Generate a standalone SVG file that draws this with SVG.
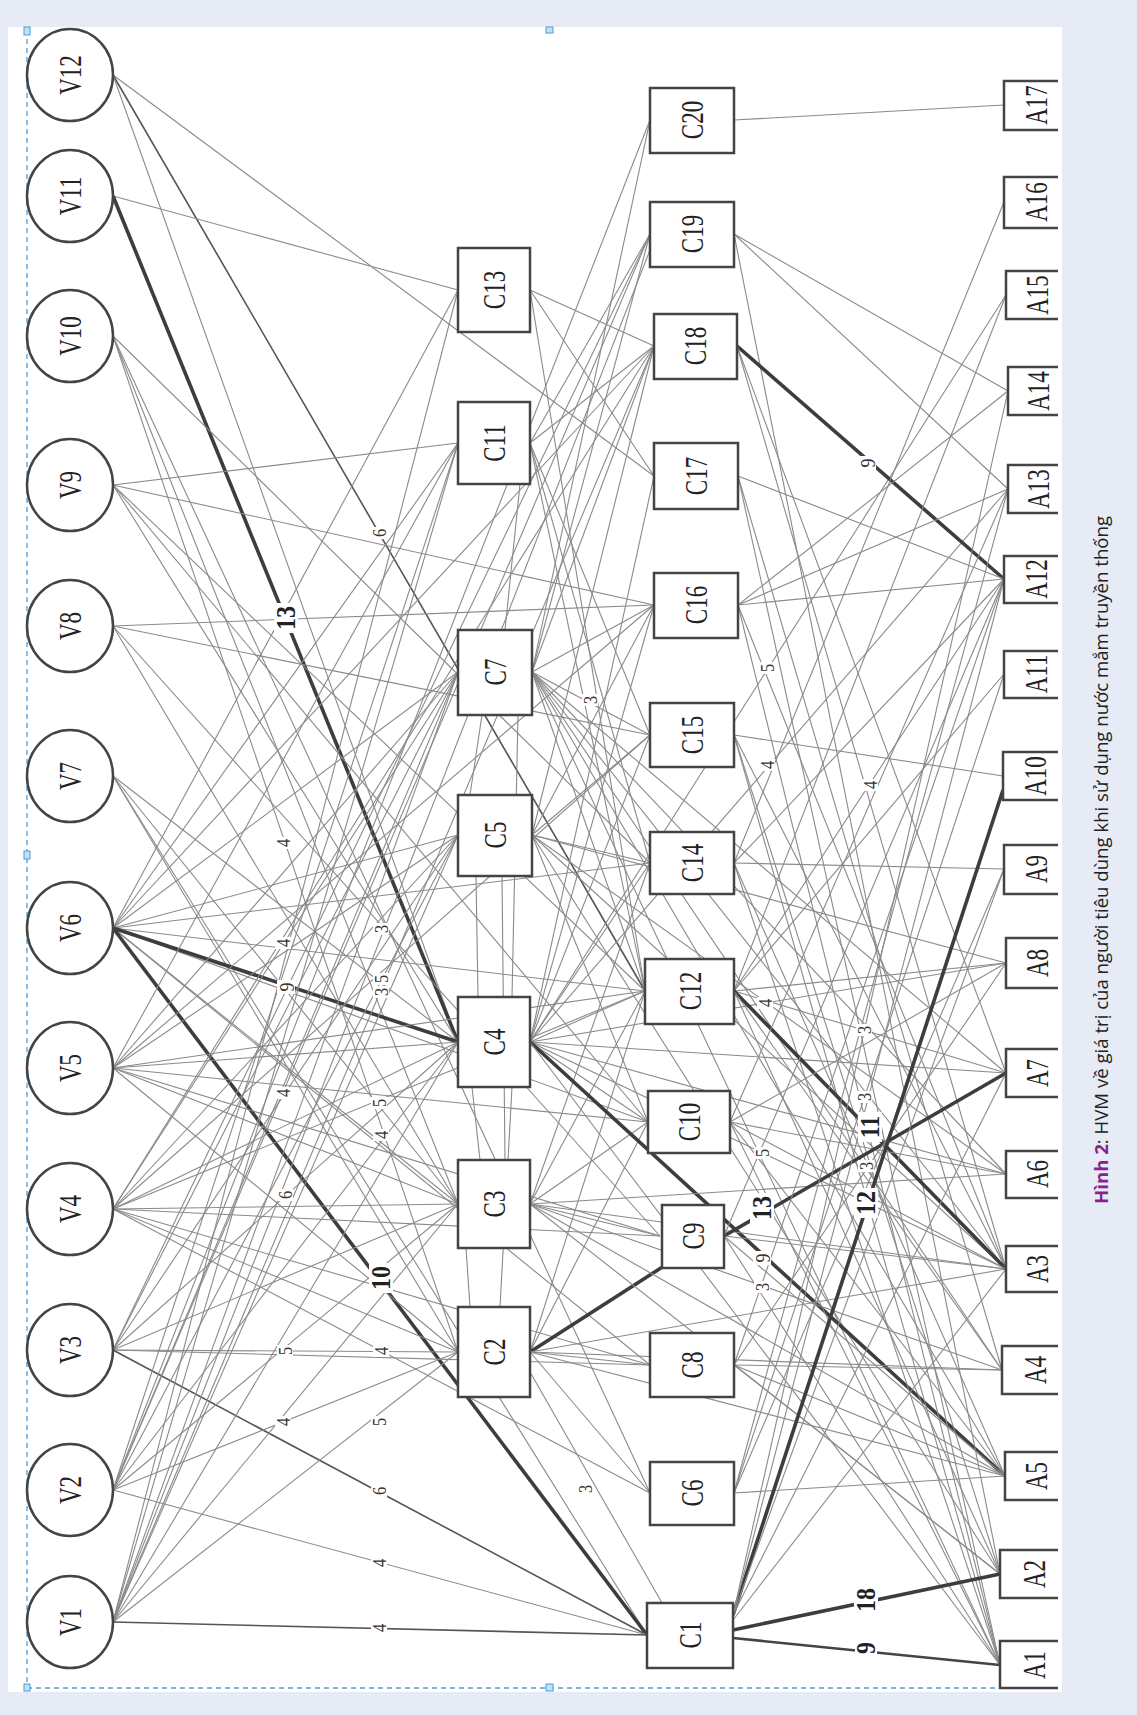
<svg xmlns="http://www.w3.org/2000/svg" width="1137" height="1715" viewBox="0 0 1137 1715">
<defs>
<style>
.t{stroke:#8a8a8a;stroke-width:1.1;fill:none}
.m{stroke:#555;stroke-width:1.6;fill:none}
.b{stroke:#3d3d3d;stroke-width:3.6;fill:none}
.b2{stroke:#444;stroke-width:2.6;fill:none}
.node{fill:#fff;stroke:#444;stroke-width:2.5}
.abox{fill:#fff;stroke:#444;stroke-width:2.5}
.nl{font-family:"Liberation Serif",serif;font-size:23px;fill:#222}
.lb{font-family:"Liberation Serif",serif;font-size:16.5px;fill:#333}
.lbb{font-family:"Liberation Serif",serif;font-size:24px;font-weight:bold;fill:#222}
.bg{fill:#fff}
.sel{stroke:#4a9fd8;stroke-width:1.3;stroke-dasharray:5 4;fill:none}
.hd{fill:#bfe0f7;stroke:#4a9fd8;stroke-width:1}
</style>
</defs>
<rect x="0" y="0" width="1137" height="1715" fill="#e6ebf5"/>
<rect x="8" y="27" width="1054" height="1665" fill="#ffffff"/>
<g id="selection">
<line class="sel" x1="27" y1="30" x2="27" y2="1688"/>
<line class="sel" x1="27" y1="1688" x2="1060" y2="1688"/>
<rect class="hd" x="24" y="27" width="6" height="8"/>
<rect class="hd" x="546" y="27" width="7" height="6"/>
<rect class="hd" x="24" y="851" width="6" height="8"/>
<rect class="hd" x="24" y="1684" width="6" height="7"/>
<rect class="hd" x="546" y="1684" width="7" height="7"/>
</g>
<g id="connectors">
<line class="t" x1="113" y1="75" x2="654" y2="476"/>
<line class="m" x1="113" y1="75" x2="645" y2="991"/>
<line class="t" x1="113" y1="75" x2="458" y2="1042"/>
<line class="t" x1="113" y1="196" x2="458" y2="290"/>
<line class="b" x1="113" y1="196" x2="458" y2="1042"/>
<line class="t" x1="113" y1="336" x2="650" y2="863"/>
<line class="t" x1="113" y1="336" x2="458" y2="1204"/>
<line class="t" x1="113" y1="336" x2="458" y2="1352"/>
<line class="t" x1="113" y1="336" x2="650" y2="1493"/>
<line class="t" x1="113" y1="485" x2="458" y2="443"/>
<line class="t" x1="113" y1="485" x2="654" y2="605"/>
<line class="t" x1="113" y1="485" x2="645" y2="991"/>
<line class="t" x1="113" y1="485" x2="648" y2="1122"/>
<line class="t" x1="113" y1="485" x2="458" y2="1042"/>
<line class="t" x1="113" y1="626" x2="654" y2="605"/>
<line class="t" x1="113" y1="626" x2="650" y2="735"/>
<line class="t" x1="113" y1="626" x2="458" y2="1204"/>
<line class="t" x1="113" y1="626" x2="660" y2="1236"/>
<line class="t" x1="113" y1="776" x2="458" y2="1042"/>
<line class="t" x1="113" y1="776" x2="458" y2="1204"/>
<line class="t" x1="113" y1="776" x2="458" y2="1352"/>
<line class="t" x1="113" y1="776" x2="647" y2="1635"/>
<line class="t" x1="113" y1="928" x2="458" y2="290"/>
<line class="t" x1="113" y1="928" x2="458" y2="443"/>
<line class="t" x1="113" y1="928" x2="654" y2="346"/>
<line class="t" x1="113" y1="928" x2="458" y2="672"/>
<line class="t" x1="113" y1="928" x2="458" y2="835"/>
<line class="t" x1="113" y1="928" x2="650" y2="863"/>
<line class="t" x1="113" y1="928" x2="645" y2="991"/>
<line class="t" x1="113" y1="928" x2="458" y2="1204"/>
<line class="t" x1="113" y1="928" x2="648" y2="1122"/>
<line class="t" x1="113" y1="928" x2="650" y2="1365"/>
<line class="b" x1="113" y1="928" x2="458" y2="1042"/>
<line class="b" x1="113" y1="928" x2="647" y2="1635"/>
<line class="t" x1="113" y1="1068" x2="458" y2="443"/>
<line class="t" x1="113" y1="1068" x2="458" y2="672"/>
<line class="t" x1="113" y1="1068" x2="458" y2="835"/>
<line class="t" x1="113" y1="1068" x2="645" y2="991"/>
<line class="t" x1="113" y1="1068" x2="458" y2="1042"/>
<line class="t" x1="113" y1="1068" x2="458" y2="1204"/>
<line class="t" x1="113" y1="1068" x2="458" y2="1352"/>
<line class="t" x1="113" y1="1068" x2="660" y2="1236"/>
<line class="t" x1="113" y1="1068" x2="648" y2="1122"/>
<line class="t" x1="113" y1="1068" x2="654" y2="605"/>
<line class="t" x1="113" y1="1209" x2="654" y2="346"/>
<line class="t" x1="113" y1="1209" x2="458" y2="672"/>
<line class="t" x1="113" y1="1209" x2="458" y2="835"/>
<line class="t" x1="113" y1="1209" x2="458" y2="1042"/>
<line class="t" x1="113" y1="1209" x2="458" y2="1204"/>
<line class="t" x1="113" y1="1209" x2="458" y2="1352"/>
<line class="t" x1="113" y1="1209" x2="660" y2="1236"/>
<line class="t" x1="113" y1="1209" x2="650" y2="1365"/>
<line class="t" x1="113" y1="1209" x2="650" y2="1493"/>
<line class="t" x1="113" y1="1209" x2="650" y2="735"/>
<line class="t" x1="113" y1="1209" x2="645" y2="991"/>
<line class="t" x1="113" y1="1350" x2="650" y2="234"/>
<line class="t" x1="113" y1="1350" x2="458" y2="672"/>
<line class="t" x1="113" y1="1350" x2="458" y2="835"/>
<line class="t" x1="113" y1="1350" x2="458" y2="1042"/>
<line class="t" x1="113" y1="1350" x2="458" y2="1204"/>
<line class="t" x1="113" y1="1350" x2="458" y2="1352"/>
<line class="m" x1="113" y1="1350" x2="647" y2="1635"/>
<line class="t" x1="113" y1="1350" x2="650" y2="1365"/>
<line class="t" x1="113" y1="1490" x2="650" y2="120"/>
<line class="t" x1="113" y1="1490" x2="458" y2="443"/>
<line class="t" x1="113" y1="1490" x2="458" y2="672"/>
<line class="t" x1="113" y1="1490" x2="458" y2="835"/>
<line class="t" x1="113" y1="1490" x2="458" y2="1042"/>
<line class="t" x1="113" y1="1490" x2="458" y2="1204"/>
<line class="t" x1="113" y1="1490" x2="458" y2="1352"/>
<line class="t" x1="113" y1="1490" x2="647" y2="1635"/>
<line class="t" x1="113" y1="1490" x2="650" y2="234"/>
<line class="t" x1="113" y1="1622" x2="650" y2="250"/>
<line class="t" x1="113" y1="1622" x2="654" y2="346"/>
<line class="t" x1="113" y1="1622" x2="458" y2="290"/>
<line class="t" x1="113" y1="1622" x2="458" y2="443"/>
<line class="t" x1="113" y1="1622" x2="458" y2="672"/>
<line class="t" x1="113" y1="1622" x2="458" y2="835"/>
<line class="t" x1="113" y1="1622" x2="458" y2="1042"/>
<line class="t" x1="113" y1="1622" x2="458" y2="1204"/>
<line class="t" x1="113" y1="1622" x2="458" y2="1352"/>
<line class="m" x1="113" y1="1622" x2="647" y2="1635"/>
<line class="t" x1="480" y1="1160" x2="472" y2="1087"/>
<line class="t" x1="505" y1="1160" x2="502" y2="876"/>
<line class="t" x1="470" y1="1307" x2="466" y2="1248"/>
<line class="t" x1="500" y1="1307" x2="512" y2="1087"/>
<line class="t" x1="470" y1="795" x2="482" y2="715"/>
<line class="t" x1="512" y1="997" x2="518" y2="715"/>
<line class="t" x1="478" y1="997" x2="476" y2="876"/>
<line class="t" x1="505" y1="630" x2="520" y2="484"/>
<line class="t" x1="530" y1="290" x2="654" y2="346"/>
<line class="t" x1="530" y1="290" x2="654" y2="476"/>
<line class="t" x1="530" y1="290" x2="645" y2="991"/>
<line class="t" x1="530" y1="443" x2="650" y2="234"/>
<line class="t" x1="530" y1="443" x2="654" y2="346"/>
<line class="t" x1="530" y1="443" x2="650" y2="735"/>
<line class="t" x1="530" y1="443" x2="645" y2="991"/>
<line class="t" x1="530" y1="443" x2="650" y2="863"/>
<line class="t" x1="532" y1="672" x2="650" y2="120"/>
<line class="t" x1="532" y1="672" x2="650" y2="234"/>
<line class="t" x1="532" y1="672" x2="654" y2="346"/>
<line class="t" x1="532" y1="672" x2="654" y2="605"/>
<line class="t" x1="532" y1="672" x2="650" y2="735"/>
<line class="t" x1="532" y1="672" x2="645" y2="991"/>
<line class="t" x1="532" y1="835" x2="654" y2="346"/>
<line class="t" x1="532" y1="835" x2="654" y2="605"/>
<line class="t" x1="532" y1="835" x2="650" y2="735"/>
<line class="t" x1="532" y1="835" x2="650" y2="863"/>
<line class="t" x1="532" y1="835" x2="648" y2="1122"/>
<line class="t" x1="530" y1="1042" x2="654" y2="476"/>
<line class="t" x1="530" y1="1042" x2="654" y2="605"/>
<line class="t" x1="530" y1="1042" x2="650" y2="735"/>
<line class="t" x1="530" y1="1042" x2="650" y2="863"/>
<line class="t" x1="530" y1="1042" x2="645" y2="991"/>
<line class="t" x1="530" y1="1042" x2="648" y2="1122"/>
<line class="t" x1="530" y1="1204" x2="650" y2="863"/>
<line class="t" x1="530" y1="1204" x2="645" y2="991"/>
<line class="t" x1="530" y1="1204" x2="648" y2="1122"/>
<line class="t" x1="530" y1="1204" x2="660" y2="1236"/>
<line class="t" x1="530" y1="1352" x2="645" y2="991"/>
<line class="t" x1="530" y1="1352" x2="648" y2="1122"/>
<line class="b" x1="530" y1="1352" x2="664" y2="1266"/>
<line class="t" x1="530" y1="1352" x2="650" y2="1365"/>
<line class="t" x1="530" y1="1352" x2="650" y2="1493"/>
<line class="t" x1="530" y1="1372" x2="662" y2="1603"/>
<line class="t" x1="532" y1="672" x2="1006" y2="1073"/>
<line class="t" x1="532" y1="672" x2="1006" y2="1174"/>
<line class="t" x1="532" y1="672" x2="1006" y2="1269"/>
<line class="t" x1="532" y1="672" x2="1005" y2="1476"/>
<line class="t" x1="532" y1="672" x2="1002" y2="1370"/>
<line class="t" x1="532" y1="672" x2="1000" y2="1665"/>
<line class="t" x1="532" y1="835" x2="1006" y2="963"/>
<line class="t" x1="532" y1="835" x2="1006" y2="1174"/>
<line class="t" x1="532" y1="835" x2="1006" y2="1269"/>
<line class="t" x1="532" y1="835" x2="1000" y2="1574"/>
<line class="t" x1="530" y1="1042" x2="1006" y2="295"/>
<line class="t" x1="530" y1="1042" x2="1008" y2="489"/>
<line class="t" x1="530" y1="1042" x2="1006" y2="963"/>
<line class="t" x1="530" y1="1042" x2="1006" y2="1073"/>
<line class="t" x1="530" y1="1042" x2="1006" y2="1174"/>
<line class="t" x1="530" y1="1042" x2="1006" y2="1269"/>
<line class="b" x1="530" y1="1042" x2="1005" y2="1476"/>
<line class="t" x1="530" y1="1042" x2="1000" y2="1665"/>
<line class="t" x1="530" y1="1204" x2="1002" y2="1370"/>
<line class="t" x1="530" y1="1204" x2="1006" y2="1174"/>
<line class="t" x1="530" y1="1204" x2="1006" y2="1269"/>
<line class="t" x1="530" y1="1204" x2="1005" y2="1476"/>
<line class="t" x1="530" y1="1204" x2="1000" y2="1574"/>
<line class="t" x1="530" y1="1352" x2="1006" y2="1269"/>
<line class="t" x1="530" y1="1352" x2="1005" y2="1476"/>
<line class="t" x1="530" y1="1352" x2="1002" y2="1370"/>
<line class="t" x1="734" y1="120" x2="1004" y2="105"/>
<line class="t" x1="734" y1="234" x2="1008" y2="391"/>
<line class="t" x1="734" y1="234" x2="1008" y2="489"/>
<line class="t" x1="734" y1="234" x2="1000" y2="1574"/>
<line class="b" x1="737" y1="346" x2="1004" y2="579"/>
<line class="t" x1="737" y1="346" x2="1006" y2="1073"/>
<line class="t" x1="737" y1="346" x2="1006" y2="1269"/>
<line class="t" x1="738" y1="476" x2="1004" y2="579"/>
<line class="t" x1="738" y1="476" x2="1002" y2="1370"/>
<line class="t" x1="738" y1="476" x2="1000" y2="1665"/>
<line class="t" x1="738" y1="605" x2="1008" y2="391"/>
<line class="t" x1="738" y1="605" x2="1008" y2="489"/>
<line class="t" x1="738" y1="605" x2="1004" y2="579"/>
<line class="t" x1="738" y1="605" x2="1006" y2="1269"/>
<line class="t" x1="738" y1="605" x2="1000" y2="1665"/>
<line class="t" x1="734" y1="735" x2="1003" y2="776"/>
<line class="t" x1="734" y1="735" x2="1006" y2="1269"/>
<line class="t" x1="734" y1="735" x2="1000" y2="1574"/>
<line class="t" x1="734" y1="735" x2="1000" y2="1665"/>
<line class="t" x1="734" y1="863" x2="1004" y2="202"/>
<line class="t" x1="734" y1="863" x2="1004" y2="579"/>
<line class="t" x1="734" y1="863" x2="1004" y2="869"/>
<line class="t" x1="734" y1="863" x2="1005" y2="1476"/>
<line class="t" x1="734" y1="863" x2="1000" y2="1665"/>
<line class="t" x1="734" y1="991" x2="1006" y2="295"/>
<line class="t" x1="734" y1="991" x2="1004" y2="579"/>
<line class="t" x1="734" y1="991" x2="1004" y2="674"/>
<line class="t" x1="734" y1="991" x2="1006" y2="963"/>
<line class="t" x1="734" y1="991" x2="1006" y2="1073"/>
<line class="b" x1="734" y1="991" x2="1006" y2="1269"/>
<line class="t" x1="734" y1="991" x2="1002" y2="1370"/>
<line class="t" x1="734" y1="991" x2="1000" y2="1574"/>
<line class="t" x1="730" y1="1122" x2="1008" y2="489"/>
<line class="t" x1="730" y1="1122" x2="1006" y2="963"/>
<line class="t" x1="730" y1="1122" x2="1006" y2="1174"/>
<line class="t" x1="730" y1="1122" x2="1006" y2="1269"/>
<line class="t" x1="730" y1="1122" x2="1005" y2="1476"/>
<line class="t" x1="730" y1="1122" x2="1000" y2="1665"/>
<line class="b" x1="724" y1="1236" x2="1006" y2="1073"/>
<line class="t" x1="724" y1="1236" x2="1004" y2="579"/>
<line class="t" x1="724" y1="1236" x2="1006" y2="1269"/>
<line class="t" x1="724" y1="1236" x2="1005" y2="1476"/>
<line class="t" x1="724" y1="1236" x2="1000" y2="1665"/>
<line class="t" x1="734" y1="1365" x2="1006" y2="963"/>
<line class="t" x1="734" y1="1365" x2="1004" y2="579"/>
<line class="t" x1="734" y1="1365" x2="1005" y2="1476"/>
<line class="t" x1="734" y1="1365" x2="1002" y2="1370"/>
<line class="t" x1="734" y1="1365" x2="1000" y2="1574"/>
<line class="t" x1="734" y1="1493" x2="1008" y2="489"/>
<line class="t" x1="734" y1="1493" x2="1004" y2="674"/>
<line class="t" x1="734" y1="1493" x2="1004" y2="869"/>
<line class="t" x1="734" y1="1493" x2="1005" y2="1476"/>
<line class="b" x1="733" y1="1615" x2="1003" y2="790"/>
<line class="b" x1="733" y1="1630" x2="1000" y2="1574"/>
<line class="b2" x1="733" y1="1638" x2="1000" y2="1665"/>
<line class="t" x1="733" y1="1615" x2="1008" y2="391"/>
<line class="t" x1="733" y1="1615" x2="1004" y2="579"/>
<line class="t" x1="733" y1="1615" x2="1004" y2="869"/>
<line class="t" x1="733" y1="1615" x2="1006" y2="1073"/>
<line class="t" x1="733" y1="1620" x2="1006" y2="1269"/>
</g>
<g id="edge-labels">
<g transform="translate(379,533)"><rect x="-8" y="-6" width="16" height="12" class="bg"/><text class="lb" text-anchor="middle" dominant-baseline="central" transform="rotate(-90) scale(1,1.2)">6</text></g>
<g transform="translate(283,843)"><rect x="-8" y="-6" width="16" height="12" class="bg"/><text class="lb" text-anchor="middle" dominant-baseline="central" transform="rotate(-90) scale(1,1.2)">4</text></g>
<g transform="translate(283,943)"><rect x="-8" y="-6" width="16" height="12" class="bg"/><text class="lb" text-anchor="middle" dominant-baseline="central" transform="rotate(-90) scale(1,1.2)">4</text></g>
<g transform="translate(286,987)"><rect x="-9" y="-7" width="18" height="14" class="bg"/><text class="lb" style="font-size:18px" text-anchor="middle" dominant-baseline="central" transform="rotate(-90) scale(1,1.2)">9</text></g>
<g transform="translate(381,929)"><rect x="-8" y="-6" width="16" height="12" class="bg"/><text class="lb" text-anchor="middle" dominant-baseline="central" transform="rotate(-90) scale(1,1.2)">3</text></g>
<g transform="translate(381,979)"><rect x="-8" y="-6" width="16" height="12" class="bg"/><text class="lb" text-anchor="middle" dominant-baseline="central" transform="rotate(-90) scale(1,1.2)">5</text></g>
<g transform="translate(381,992)"><rect x="-8" y="-6" width="16" height="12" class="bg"/><text class="lb" text-anchor="middle" dominant-baseline="central" transform="rotate(-90) scale(1,1.2)">3</text></g>
<g transform="translate(283,1093)"><rect x="-8" y="-6" width="16" height="12" class="bg"/><text class="lb" text-anchor="middle" dominant-baseline="central" transform="rotate(-90) scale(1,1.2)">4</text></g>
<g transform="translate(379,1103)"><rect x="-8" y="-6" width="16" height="12" class="bg"/><text class="lb" text-anchor="middle" dominant-baseline="central" transform="rotate(-90) scale(1,1.2)">5</text></g>
<g transform="translate(381,1135)"><rect x="-8" y="-6" width="16" height="12" class="bg"/><text class="lb" text-anchor="middle" dominant-baseline="central" transform="rotate(-90) scale(1,1.2)">4</text></g>
<g transform="translate(285,1195)"><rect x="-8" y="-6" width="16" height="12" class="bg"/><text class="lb" text-anchor="middle" dominant-baseline="central" transform="rotate(-90) scale(1,1.2)">6</text></g>
<g transform="translate(285,1351)"><rect x="-8" y="-6" width="16" height="12" class="bg"/><text class="lb" text-anchor="middle" dominant-baseline="central" transform="rotate(-90) scale(1,1.2)">5</text></g>
<g transform="translate(381,1351)"><rect x="-8" y="-6" width="16" height="12" class="bg"/><text class="lb" text-anchor="middle" dominant-baseline="central" transform="rotate(-90) scale(1,1.2)">4</text></g>
<g transform="translate(283,1422)"><rect x="-8" y="-6" width="16" height="12" class="bg"/><text class="lb" text-anchor="middle" dominant-baseline="central" transform="rotate(-90) scale(1,1.2)">4</text></g>
<g transform="translate(379,1422)"><rect x="-8" y="-6" width="16" height="12" class="bg"/><text class="lb" text-anchor="middle" dominant-baseline="central" transform="rotate(-90) scale(1,1.2)">5</text></g>
<g transform="translate(379,1491)"><rect x="-8" y="-6" width="16" height="12" class="bg"/><text class="lb" text-anchor="middle" dominant-baseline="central" transform="rotate(-90) scale(1,1.2)">6</text></g>
<g transform="translate(379,1563)"><rect x="-8" y="-6" width="16" height="12" class="bg"/><text class="lb" text-anchor="middle" dominant-baseline="central" transform="rotate(-90) scale(1,1.2)">4</text></g>
<g transform="translate(379,1628)"><rect x="-8" y="-6" width="16" height="12" class="bg"/><text class="lb" text-anchor="middle" dominant-baseline="central" transform="rotate(-90) scale(1,1.2)">4</text></g>
<g transform="translate(590,700)"><rect x="-8" y="-6" width="16" height="12" class="bg"/><text class="lb" text-anchor="middle" dominant-baseline="central" transform="rotate(-90) scale(1,1.2)">3</text></g>
<g transform="translate(585,1489)"><rect x="-8" y="-6" width="16" height="12" class="bg"/><text class="lb" text-anchor="middle" dominant-baseline="central" transform="rotate(-90) scale(1,1.2)">3</text></g>
<g transform="translate(767,668)"><rect x="-8" y="-6" width="16" height="12" class="bg"/><text class="lb" text-anchor="middle" dominant-baseline="central" transform="rotate(-90) scale(1,1.2)">5</text></g>
<g transform="translate(767,765)"><rect x="-8" y="-6" width="16" height="12" class="bg"/><text class="lb" text-anchor="middle" dominant-baseline="central" transform="rotate(-90) scale(1,1.2)">4</text></g>
<g transform="translate(870,785)"><rect x="-8" y="-6" width="16" height="12" class="bg"/><text class="lb" text-anchor="middle" dominant-baseline="central" transform="rotate(-90) scale(1,1.2)">4</text></g>
<g transform="translate(765,1003)"><rect x="-8" y="-6" width="16" height="12" class="bg"/><text class="lb" text-anchor="middle" dominant-baseline="central" transform="rotate(-90) scale(1,1.2)">4</text></g>
<g transform="translate(864,1030)"><rect x="-8" y="-6" width="16" height="12" class="bg"/><text class="lb" text-anchor="middle" dominant-baseline="central" transform="rotate(-90) scale(1,1.2)">3</text></g>
<g transform="translate(864,1097)"><rect x="-8" y="-6" width="16" height="12" class="bg"/><text class="lb" text-anchor="middle" dominant-baseline="central" transform="rotate(-90) scale(1,1.2)">3</text></g>
<g transform="translate(866,1166)"><rect x="-8" y="-6" width="16" height="12" class="bg"/><text class="lb" text-anchor="middle" dominant-baseline="central" transform="rotate(-90) scale(1,1.2)">3</text></g>
<g transform="translate(762,1153)"><rect x="-8" y="-6" width="16" height="12" class="bg"/><text class="lb" text-anchor="middle" dominant-baseline="central" transform="rotate(-90) scale(1,1.2)">5</text></g>
<g transform="translate(762,1258)"><rect x="-9" y="-7" width="18" height="14" class="bg"/><text class="lb" style="font-size:18px" text-anchor="middle" dominant-baseline="central" transform="rotate(-90) scale(1,1.2)">9</text></g>
<g transform="translate(762,1287)"><rect x="-8" y="-6" width="16" height="12" class="bg"/><text class="lb" text-anchor="middle" dominant-baseline="central" transform="rotate(-90) scale(1,1.2)">3</text></g>
<g transform="translate(867,463)"><rect x="-9" y="-7" width="18" height="14" class="bg"/><text class="lb" style="font-size:18px" text-anchor="middle" dominant-baseline="central" transform="rotate(-90) scale(1,1.2)">9</text></g>
<g transform="translate(286,618)"><rect x="-12" y="-15" width="24" height="30" class="bg"/><text class="lbb" text-anchor="middle" dominant-baseline="central" transform="rotate(-90) scale(1,1.15)">13</text></g>
<g transform="translate(381,1278)"><rect x="-12" y="-15" width="24" height="30" class="bg"/><text class="lbb" text-anchor="middle" dominant-baseline="central" transform="rotate(-90) scale(1,1.15)">10</text></g>
<g transform="translate(762,1208)"><rect x="-12" y="-15" width="24" height="30" class="bg"/><text class="lbb" text-anchor="middle" dominant-baseline="central" transform="rotate(-90) scale(1,1.15)">13</text></g>
<g transform="translate(870,1127)"><rect x="-12" y="-15" width="24" height="30" class="bg"/><text class="lbb" text-anchor="middle" dominant-baseline="central" transform="rotate(-90) scale(1,1.15)">11</text></g>
<g transform="translate(866,1203)"><rect x="-12" y="-15" width="24" height="30" class="bg"/><text class="lbb" text-anchor="middle" dominant-baseline="central" transform="rotate(-90) scale(1,1.15)">12</text></g>
<g transform="translate(866,1600)"><rect x="-12" y="-15" width="24" height="30" class="bg"/><text class="lbb" text-anchor="middle" dominant-baseline="central" transform="rotate(-90) scale(1,1.15)">18</text></g>
<g transform="translate(866,1648)"><rect x="-11" y="-10" width="22" height="20" class="bg"/><text class="lbb" text-anchor="middle" dominant-baseline="central" transform="rotate(-90) scale(1,1.15)">9</text></g>
</g>
<g id="nodes-V">
<g id="V12"><ellipse class="node" cx="70" cy="75" rx="43" ry="46"/><text class="nl" text-anchor="middle" dominant-baseline="central" transform="translate(70,75) rotate(-90) scale(1,1.4)">V12</text></g>
<g id="V11"><ellipse class="node" cx="70" cy="196" rx="43" ry="46"/><text class="nl" text-anchor="middle" dominant-baseline="central" transform="translate(70,196) rotate(-90) scale(1,1.4)">V11</text></g>
<g id="V10"><ellipse class="node" cx="70" cy="336" rx="43" ry="46"/><text class="nl" text-anchor="middle" dominant-baseline="central" transform="translate(70,336) rotate(-90) scale(1,1.4)">V10</text></g>
<g id="V9"><ellipse class="node" cx="70" cy="485" rx="43" ry="46"/><text class="nl" text-anchor="middle" dominant-baseline="central" transform="translate(70,485) rotate(-90) scale(1,1.4)">V9</text></g>
<g id="V8"><ellipse class="node" cx="70" cy="626" rx="43" ry="46"/><text class="nl" text-anchor="middle" dominant-baseline="central" transform="translate(70,626) rotate(-90) scale(1,1.4)">V8</text></g>
<g id="V7"><ellipse class="node" cx="70" cy="776" rx="43" ry="46"/><text class="nl" text-anchor="middle" dominant-baseline="central" transform="translate(70,776) rotate(-90) scale(1,1.4)">V7</text></g>
<g id="V6"><ellipse class="node" cx="70" cy="928" rx="43" ry="46"/><text class="nl" text-anchor="middle" dominant-baseline="central" transform="translate(70,928) rotate(-90) scale(1,1.4)">V6</text></g>
<g id="V5"><ellipse class="node" cx="70" cy="1068" rx="43" ry="46"/><text class="nl" text-anchor="middle" dominant-baseline="central" transform="translate(70,1068) rotate(-90) scale(1,1.4)">V5</text></g>
<g id="V4"><ellipse class="node" cx="70" cy="1209" rx="43" ry="46"/><text class="nl" text-anchor="middle" dominant-baseline="central" transform="translate(70,1209) rotate(-90) scale(1,1.4)">V4</text></g>
<g id="V3"><ellipse class="node" cx="70" cy="1350" rx="43" ry="46"/><text class="nl" text-anchor="middle" dominant-baseline="central" transform="translate(70,1350) rotate(-90) scale(1,1.4)">V3</text></g>
<g id="V2"><ellipse class="node" cx="70" cy="1490" rx="43" ry="46"/><text class="nl" text-anchor="middle" dominant-baseline="central" transform="translate(70,1490) rotate(-90) scale(1,1.4)">V2</text></g>
<g id="V1"><ellipse class="node" cx="70" cy="1622" rx="43" ry="46"/><text class="nl" text-anchor="middle" dominant-baseline="central" transform="translate(70,1622) rotate(-90) scale(1,1.4)">V1</text></g>
</g>
<g id="nodes-C">
<g id="C13"><rect class="node" x="458" y="248" width="72" height="84"/><text class="nl" text-anchor="middle" dominant-baseline="central" transform="translate(494,290) rotate(-90) scale(1,1.4)">C13</text></g>
<g id="C11"><rect class="node" x="458" y="402" width="72" height="82"/><text class="nl" text-anchor="middle" dominant-baseline="central" transform="translate(494,443) rotate(-90) scale(1,1.4)">C11</text></g>
<g id="C7"><rect class="node" x="458" y="630" width="74" height="85"/><text class="nl" text-anchor="middle" dominant-baseline="central" transform="translate(495,672) rotate(-90) scale(1,1.4)">C7</text></g>
<g id="C5"><rect class="node" x="458" y="795" width="74" height="81"/><text class="nl" text-anchor="middle" dominant-baseline="central" transform="translate(495,835) rotate(-90) scale(1,1.4)">C5</text></g>
<g id="C4"><rect class="node" x="458" y="997" width="72" height="90"/><text class="nl" text-anchor="middle" dominant-baseline="central" transform="translate(494,1042) rotate(-90) scale(1,1.4)">C4</text></g>
<g id="C3"><rect class="node" x="458" y="1160" width="72" height="88"/><text class="nl" text-anchor="middle" dominant-baseline="central" transform="translate(494,1204) rotate(-90) scale(1,1.4)">C3</text></g>
<g id="C2"><rect class="node" x="458" y="1307" width="72" height="90"/><text class="nl" text-anchor="middle" dominant-baseline="central" transform="translate(494,1352) rotate(-90) scale(1,1.4)">C2</text></g>
<g id="C20"><rect class="node" x="650" y="88" width="84" height="65"/><text class="nl" text-anchor="middle" dominant-baseline="central" transform="translate(692,120) rotate(-90) scale(1,1.4)">C20</text></g>
<g id="C19"><rect class="node" x="650" y="202" width="84" height="65"/><text class="nl" text-anchor="middle" dominant-baseline="central" transform="translate(692,234) rotate(-90) scale(1,1.4)">C19</text></g>
<g id="C18"><rect class="node" x="654" y="314" width="83" height="65"/><text class="nl" text-anchor="middle" dominant-baseline="central" transform="translate(695,346) rotate(-90) scale(1,1.4)">C18</text></g>
<g id="C17"><rect class="node" x="654" y="443" width="84" height="66"/><text class="nl" text-anchor="middle" dominant-baseline="central" transform="translate(696,476) rotate(-90) scale(1,1.4)">C17</text></g>
<g id="C16"><rect class="node" x="654" y="573" width="84" height="65"/><text class="nl" text-anchor="middle" dominant-baseline="central" transform="translate(696,605) rotate(-90) scale(1,1.4)">C16</text></g>
<g id="C15"><rect class="node" x="650" y="703" width="84" height="64"/><text class="nl" text-anchor="middle" dominant-baseline="central" transform="translate(692,735) rotate(-90) scale(1,1.4)">C15</text></g>
<g id="C14"><rect class="node" x="650" y="832" width="84" height="62"/><text class="nl" text-anchor="middle" dominant-baseline="central" transform="translate(692,863) rotate(-90) scale(1,1.4)">C14</text></g>
<g id="C12"><rect class="node" x="645" y="959" width="89" height="65"/><text class="nl" text-anchor="middle" dominant-baseline="central" transform="translate(690,991) rotate(-90) scale(1,1.4)">C12</text></g>
<g id="C10"><rect class="node" x="648" y="1091" width="82" height="62"/><text class="nl" text-anchor="middle" dominant-baseline="central" transform="translate(689,1122) rotate(-90) scale(1,1.4)">C10</text></g>
<g id="C9"><rect class="node" x="662" y="1205" width="62" height="63"/><text class="nl" text-anchor="middle" dominant-baseline="central" transform="translate(693,1236) rotate(-90) scale(1,1.4)">C9</text></g>
<g id="C8"><rect class="node" x="650" y="1333" width="84" height="64"/><text class="nl" text-anchor="middle" dominant-baseline="central" transform="translate(692,1365) rotate(-90) scale(1,1.4)">C8</text></g>
<g id="C6"><rect class="node" x="650" y="1462" width="84" height="63"/><text class="nl" text-anchor="middle" dominant-baseline="central" transform="translate(692,1493) rotate(-90) scale(1,1.4)">C6</text></g>
<g id="C1"><rect class="node" x="647" y="1603" width="86" height="65"/><text class="nl" text-anchor="middle" dominant-baseline="central" transform="translate(690,1635) rotate(-90) scale(1,1.4)">C1</text></g>
</g>
<g id="nodes-A">
<g id="A17"><path class="abox" d="M1058,81 H1004 V130 H1058"/><text class="nl" text-anchor="middle" dominant-baseline="central" transform="translate(1036,105) rotate(-90) scale(1,1.4)">A17</text></g>
<g id="A16"><path class="abox" d="M1058,177 H1004 V228 H1058"/><text class="nl" text-anchor="middle" dominant-baseline="central" transform="translate(1036,202) rotate(-90) scale(1,1.4)">A16</text></g>
<g id="A15"><path class="abox" d="M1058,271 H1006 V319 H1058"/><text class="nl" text-anchor="middle" dominant-baseline="central" transform="translate(1037,295) rotate(-90) scale(1,1.4)">A15</text></g>
<g id="A14"><path class="abox" d="M1058,367 H1008 V415 H1058"/><text class="nl" text-anchor="middle" dominant-baseline="central" transform="translate(1038,391) rotate(-90) scale(1,1.4)">A14</text></g>
<g id="A13"><path class="abox" d="M1058,465 H1008 V513 H1058"/><text class="nl" text-anchor="middle" dominant-baseline="central" transform="translate(1038,489) rotate(-90) scale(1,1.4)">A13</text></g>
<g id="A12"><path class="abox" d="M1058,556 H1004 V603 H1058"/><text class="nl" text-anchor="middle" dominant-baseline="central" transform="translate(1036,579) rotate(-90) scale(1,1.4)">A12</text></g>
<g id="A11"><path class="abox" d="M1058,651 H1004 V698 H1058"/><text class="nl" text-anchor="middle" dominant-baseline="central" transform="translate(1036,674) rotate(-90) scale(1,1.4)">A11</text></g>
<g id="A10"><path class="abox" d="M1058,752 H1003 V800 H1058"/><text class="nl" text-anchor="middle" dominant-baseline="central" transform="translate(1035,776) rotate(-90) scale(1,1.4)">A10</text></g>
<g id="A9"><path class="abox" d="M1058,845 H1004 V894 H1058"/><text class="nl" text-anchor="middle" dominant-baseline="central" transform="translate(1036,869) rotate(-90) scale(1,1.4)">A9</text></g>
<g id="A8"><path class="abox" d="M1058,938 H1006 V988 H1058"/><text class="nl" text-anchor="middle" dominant-baseline="central" transform="translate(1037,963) rotate(-90) scale(1,1.4)">A8</text></g>
<g id="A7"><path class="abox" d="M1058,1049 H1006 V1097 H1058"/><text class="nl" text-anchor="middle" dominant-baseline="central" transform="translate(1037,1073) rotate(-90) scale(1,1.4)">A7</text></g>
<g id="A6"><path class="abox" d="M1058,1151 H1006 V1198 H1058"/><text class="nl" text-anchor="middle" dominant-baseline="central" transform="translate(1037,1174) rotate(-90) scale(1,1.4)">A6</text></g>
<g id="A3"><path class="abox" d="M1058,1246 H1006 V1292 H1058"/><text class="nl" text-anchor="middle" dominant-baseline="central" transform="translate(1037,1269) rotate(-90) scale(1,1.4)">A3</text></g>
<g id="A4"><path class="abox" d="M1058,1346 H1002 V1394 H1058"/><text class="nl" text-anchor="middle" dominant-baseline="central" transform="translate(1035,1370) rotate(-90) scale(1,1.4)">A4</text></g>
<g id="A5"><path class="abox" d="M1058,1452 H1005 V1500 H1058"/><text class="nl" text-anchor="middle" dominant-baseline="central" transform="translate(1036,1476) rotate(-90) scale(1,1.4)">A5</text></g>
<g id="A2"><path class="abox" d="M1058,1550 H1000 V1598 H1058"/><text class="nl" text-anchor="middle" dominant-baseline="central" transform="translate(1034,1574) rotate(-90) scale(1,1.4)">A2</text></g>
<g id="A1"><path class="abox" d="M1058,1641 H1000 V1688 H1058"/><text class="nl" text-anchor="middle" dominant-baseline="central" transform="translate(1034,1665) rotate(-90) scale(1,1.4)">A1</text></g>
</g>
<text transform="translate(1108,860) rotate(-90)" text-anchor="middle" font-family="'Open Sans','Noto Sans',sans-serif" font-size="18.6" fill="#222"><tspan fill="#8a1f8f" font-weight="bold">Hình 2</tspan>: HVM về giá trị của người tiêu dùng khi sử dụng nước mắm truyền thống</text>
</svg>
